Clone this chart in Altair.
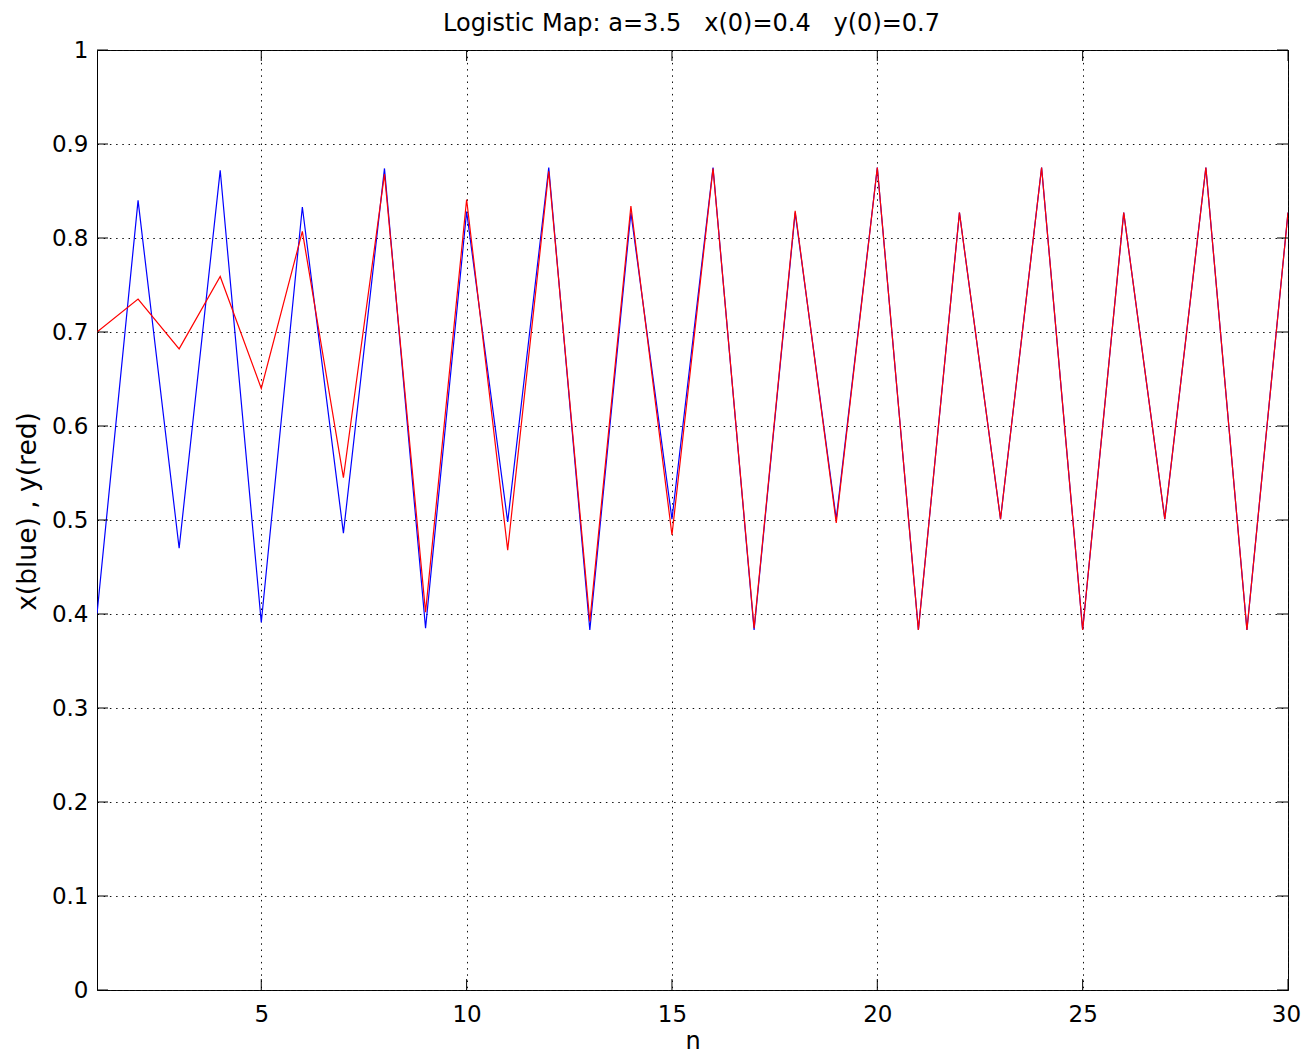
import altair as alt
import pandas as pd

# n values and the two series
n_vals = list(range(1, 31))
x_blue = [0.400, 0.840, 0.470, 0.872, 0.391, 0.833, 0.486, 0.874, 0.385, 0.828,
          0.498, 0.875, 0.383, 0.827, 0.501, 0.875, 0.383, 0.827, 0.501, 0.875,
          0.383, 0.827, 0.501, 0.875, 0.383, 0.827, 0.501, 0.875, 0.383, 0.827]
y_red = [0.700, 0.735, 0.682, 0.759, 0.640, 0.807, 0.545, 0.868, 0.402, 0.841,
         0.468, 0.871, 0.392, 0.834, 0.484, 0.874, 0.385, 0.829, 0.497, 0.875,
         0.383, 0.827, 0.501, 0.875, 0.383, 0.827, 0.501, 0.875, 0.383, 0.827]
x_ticks = [5, 10, 15, 20, 25, 30]
y_ticks = [0, 0.1, 0.2, 0.3, 0.4, 0.5, 0.6, 0.7, 0.8, 0.9, 1.0]
title_text = "Logistic Map: a=3.5 \u00a0 x(0)=0.4 \u00a0 y(0)=0.7"

W, H = 1191, 940
FONT = "DejaVu Sans"
TICK = 11

df = pd.DataFrame({"n": n_vals, "xv": x_blue, "yv": y_red})
xt = pd.DataFrame({"v": x_ticks})
yt = pd.DataFrame({"v": y_ticks})

xscale = alt.Scale(domain=[1, 30], nice=False, zero=False)
yscale = alt.Scale(domain=[0, 1], nice=False)

x_axis = alt.Axis(values=x_ticks, format="d", title="n", grid=True,
                  gridDash=[1.5, 4.7], gridColor="#111111", gridWidth=1, gridOpacity=1,
                  tickSize=0, domain=False, labelFont=FONT, labelFontSize=23,
                  labelColor="black", labelPadding=13, titleFont=FONT,
                  titleFontSize=24, titleFontWeight="normal", titleColor="black",
                  titlePadding=3, labelFlush=False,
                  labelOffset={"condition": {"test": "datum.value == 30", "value": -2},
                               "value": 0})
y_axis = alt.Axis(values=y_ticks, format=".1~f", title="x(blue) , y(red)", grid=True,
                  gridDash=[1.5, 4.7], gridColor="#111111", gridWidth=1, gridOpacity=1,
                  tickSize=0, domain=False, labelFont=FONT, labelFontSize=23,
                  labelColor="black", labelPadding=9, titleFont=FONT,
                  titleFontSize=26.5, titleFontWeight="normal", titleColor="black",
                  titlePadding=10, labelFlush=False, titleY=461)


def X(field):
    return alt.X(field, type="quantitative", scale=xscale, axis=x_axis)


def Y(field):
    return alt.Y(field, type="quantitative", scale=yscale, axis=y_axis)


blue = alt.Chart(df).mark_line(color="#0000ff", strokeWidth=1.2, clip=True).encode(
    x=X("n"), y=Y("xv"))
red = alt.Chart(df).mark_line(color="#ff0000", strokeWidth=1.2, clip=True).encode(
    x=X("n"), y=Y("yv"))

yt_left = alt.Chart(yt).mark_rule(color="black", strokeWidth=1).encode(
    y=Y("v"), x=alt.value(0), x2=alt.value(TICK))
yt_right = alt.Chart(yt).mark_rule(color="black", strokeWidth=1).encode(
    y=Y("v"), x=alt.value(W - TICK), x2=alt.value(W))
xt_bottom = alt.Chart(xt).mark_rule(color="black", strokeWidth=1).encode(
    x=X("v"), y=alt.value(H - TICK), y2=alt.value(H))
xt_top = alt.Chart(xt).mark_rule(color="black", strokeWidth=1).encode(
    x=X("v"), y=alt.value(0), y2=alt.value(TICK))

title = alt.Chart(pd.DataFrame({"t": [title_text]})).mark_text(
    font=FONT, fontSize=24, color="black", align="center", baseline="alphabetic"
).encode(x=alt.value(W / 2 - 1), y=alt.value(-19), text="t:N")

chart = alt.layer(blue, red, yt_left, yt_right, xt_bottom, xt_top, title).properties(
    width=W, height=H,
    background="white",
    autosize=alt.AutoSizeParams(type="none"),
    padding={"left": 89, "top": 42, "right": 13, "bottom": 65},
).configure_view(stroke="black", strokeWidth=1)

chart.save("out.html", embed_options={"renderer": "svg", "actions": False})
